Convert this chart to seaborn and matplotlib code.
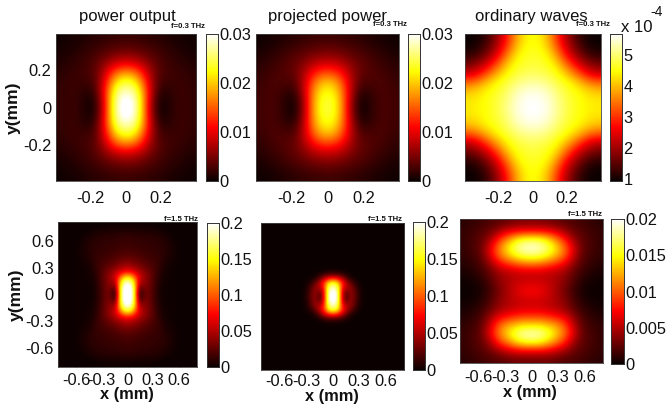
import numpy as np
import pandas as pd
import matplotlib
matplotlib.use("Agg")
import matplotlib.pyplot as plt
import seaborn as sns

# Upper-right quadrants: rows y = 0 .. ymax, columns x = 0 .. xmax (units of 1e-3)
power_03 = [
    [32, 29, 19, 6.5, 0.4, 1.0, 2.0, 2.2, 1.8],
    [31, 28.5, 19, 7, 0.8, 1.0, 2.0, 2.2, 1.8],
    [28, 26, 18, 8, 1.8, 1.5, 2.1, 2.2, 1.8],
    [24, 22, 15.5, 7.5, 2.8, 2.2, 2.2, 2.1, 1.7],
    [18, 16.5, 12, 6.5, 3.4, 2.5, 2.2, 1.9, 1.4],
    [11, 10, 8, 5.2, 3.3, 2.4, 1.9, 1.5, 1.1],
    [6.2, 5.8, 4.8, 3.6, 2.7, 2, 1.5, 1.1, 0.8],
    [3.6, 3.4, 3, 2.5, 2, 1.5, 1.1, 0.8, 0.5],
    [2.2, 2.1, 1.9, 1.6, 1.3, 1, 0.7, 0.5, 0.3],
]
projected_03 = [
    [24.5, 22.5, 15, 5, 0.3, 1.2, 2.6, 2.8, 2.4],
    [24, 22, 15, 5.5, 0.7, 1.3, 2.6, 2.8, 2.4],
    [22.5, 20.5, 14.5, 6.5, 1.9, 2, 2.8, 2.8, 2.3],
    [19.5, 18, 13, 7, 3.2, 2.9, 3, 2.7, 2.1],
    [14.5, 13.5, 10.5, 6.5, 4, 3.3, 2.9, 2.4, 1.8],
    [9.5, 9, 7.5, 5.4, 4, 3.2, 2.5, 2, 1.4],
    [6, 5.8, 5, 4, 3.3, 2.6, 2, 1.4, 1],
    [3.8, 3.6, 3.2, 2.8, 2.3, 1.8, 1.3, 0.9, 0.6],
    [2.4, 2.3, 2.1, 1.8, 1.5, 1.1, 0.8, 0.5, 0.3],
]
# units of 1e-4
ordinary_03 = [
    [5.7, 5.65, 5.5, 5.2, 4.9, 4.65, 4.5, 4.4, 4.35],
    [5.65, 5.6, 5.45, 5.15, 4.85, 4.65, 4.5, 4.35, 4.3],
    [5.5, 5.45, 5.3, 5.0, 4.75, 4.55, 4.35, 4.15, 4.0],
    [5.2, 5.15, 5.0, 4.8, 4.55, 4.25, 3.9, 3.5, 3.3],
    [4.9, 4.85, 4.75, 4.5, 4.1, 3.6, 3.05, 2.55, 2.3],
    [4.75, 4.7, 4.55, 4.2, 3.55, 2.9, 2.3, 1.95, 1.7],
    [4.65, 4.6, 4.35, 3.75, 2.95, 2.25, 1.75, 1.4, 1.25],
    [4.55, 4.45, 4.05, 3.3, 2.5, 1.85, 1.4, 1.1, 1.0],
    [4.5, 4.35, 3.85, 3.05, 2.25, 1.65, 1.2, 1.0, 0.95],
]
power_15 = [
    [230, 205, 110, 6, 28, 30, 20, 10, 3, 2, 2, 2, 1.5, 1, 1, 1, 1],
    [225, 200, 115, 15, 31, 31, 20, 10, 3.5, 2, 2, 2, 1.5, 1, 1, 1, 1],
    [210, 190, 115, 35, 38, 32, 21, 11, 4, 2.5, 2, 2, 1.5, 1, 1, 1, 1],
    [185, 165, 110, 52, 42, 33, 22, 12, 5, 3, 2, 2, 1.5, 1, 1, 1, 1],
    [140, 125, 90, 58, 44, 34, 23, 13, 6, 3, 2.5, 2, 1.5, 1, 1, 1, 1],
    [85, 78, 65, 50, 40, 31, 23, 14, 7, 3.5, 2.5, 2, 1.5, 1, 1, 1, 1],
    [55, 52, 45, 38, 32, 26, 20, 15, 9, 4.5, 3, 2, 1.5, 1, 1, 1, 1],
    [40, 38, 34, 29, 25, 21, 18, 15, 10, 5.5, 3.5, 2.5, 1.5, 1, 1, 1, 1],
    [30, 29, 26, 23, 20, 18, 16, 14, 11, 7, 4.5, 3, 2, 1, 1, 1, 1],
    [23, 22, 21, 19, 17, 15, 14, 13, 11, 8, 5.5, 3.5, 2, 1, 1, 1, 1],
    [19, 18, 17, 16, 15, 14, 13, 12, 11, 9, 6.5, 4, 2, 1, 1, 1, 1],
    [16, 16, 15, 14, 13, 13, 12, 11, 10, 8.5, 6.5, 3.5, 2, 1, 1, 1, 1],
    [14, 14, 13, 13, 12, 12, 11, 10, 9, 7.5, 5, 3, 1.5, 1, 1, 1, 1],
    [13, 13, 12, 11, 10, 10, 9, 8.5, 7.5, 6, 4, 2, 1.5, 1, 1, 1, 1],
    [9, 9, 8, 8, 7.5, 7.5, 7, 6.5, 5, 3, 2, 1.5, 1, 1, 1, 1, 1],
    [4.5, 4.5, 4.5, 4, 4, 3.5, 3, 2.5, 2, 1.5, 1, 1, 1, 1, 1, 1, 1],
    [2, 2, 2, 2, 2, 1.5, 1.5, 1, 1, 1, 1, 1, 1, 1, 1, 1, 1],
]
projected_15 = [
    [215, 190, 75, 15, 42, 28, 8, 1.5, 0, 0, 0, 0, 0, 0, 0, 0, 0],
    [210, 185, 78, 25, 43, 27, 7, 1.5, 0, 0, 0, 0, 0, 0, 0, 0, 0],
    [190, 170, 90, 48, 42, 22, 5, 1, 0, 0, 0, 0, 0, 0, 0, 0, 0],
    [160, 145, 90, 55, 30, 12, 3, 0.5, 0, 0, 0, 0, 0, 0, 0, 0, 0],
    [90, 80, 58, 28, 9, 3, 1, 0.2, 0, 0, 0, 0, 0, 0, 0, 0, 0],
    [20, 18, 13, 6, 2, 0.6, 0.2, 0, 0, 0, 0, 0, 0, 0, 0, 0, 0],
    [2.5, 2, 1.5, 1, 0.4, 0.1, 0, 0, 0, 0, 0, 0, 0, 0, 0, 0, 0],
    [0.3, 0.3, 0.2, 0.1, 0, 0, 0, 0, 0, 0, 0, 0, 0, 0, 0, 0, 0],
    [0, 0, 0, 0, 0, 0, 0, 0, 0, 0, 0, 0, 0, 0, 0, 0, 0],
    [0, 0, 0, 0, 0, 0, 0, 0, 0, 0, 0, 0, 0, 0, 0, 0, 0],
    [0, 0, 0, 0, 0, 0, 0, 0, 0, 0, 0, 0, 0, 0, 0, 0, 0],
    [0, 0, 0, 0, 0, 0, 0, 0, 0, 0, 0, 0, 0, 0, 0, 0, 0],
    [0, 0, 0, 0, 0, 0, 0, 0, 0, 0, 0, 0, 0, 0, 0, 0, 0],
    [0, 0, 0, 0, 0, 0, 0, 0, 0, 0, 0, 0, 0, 0, 0, 0, 0],
    [0, 0, 0, 0, 0, 0, 0, 0, 0, 0, 0, 0, 0, 0, 0, 0, 0],
    [0, 0, 0, 0, 0, 0, 0, 0, 0, 0, 0, 0, 0, 0, 0, 0, 0],
    [0, 0, 0, 0, 0, 0, 0, 0, 0, 0, 0, 0, 0, 0, 0, 0, 0],
]
# Right half, rows y = -0.8 .. 0.8 bottom to top, columns x = 0 .. 0.8
ordinary_15 = [
    [3, 3, 3, 2.6, 2.2, 2, 1.6, 1.3, 1],
    [7.5, 7.5, 7, 6, 4.5, 3, 2.3, 1.7, 1.3],
    [16, 15.5, 13.5, 11, 8.5, 4.5, 2.6, 1.9, 1.3],
    [19, 18.5, 16.5, 13.5, 10.5, 6.5, 2.8, 1.9, 1.3],
    [14, 14, 13, 12, 9.5, 5.5, 2.5, 1.6, 1.1],
    [9, 9, 8.5, 7.5, 6.5, 4, 2, 1.2, 0.8],
    [6, 6, 5.5, 5, 4, 2.5, 1.3, 0.7, 0.4],
    [6, 6, 5.5, 4.8, 3.6, 2, 0.8, 0.3, 0.2],
    [7.5, 7, 6, 4.5, 3, 1.5, 0.5, 0.1, 0.1],
    [6, 6, 5.5, 4.8, 3.6, 2, 0.8, 0.3, 0.2],
    [5.5, 5.5, 5.2, 4.8, 4, 2.5, 1.3, 0.7, 0.4],
    [9.5, 9.2, 8.5, 7.5, 6, 3.5, 2, 1.2, 0.8],
    [16, 15.5, 14, 12, 9.5, 5.5, 2.5, 1.6, 1.1],
    [19.5, 19, 17, 14, 10.5, 6.5, 2.8, 1.9, 1.3],
    [17, 16.5, 14.5, 11.5, 8.5, 4.5, 2.6, 1.9, 1.3],
    [8, 8, 7.5, 6.5, 4.5, 3, 2.3, 1.7, 1.3],
    [3.5, 3.5, 3.2, 2.8, 2.4, 2, 1.6, 1.3, 1],
]

titles = ["power output", "projected power", "ordinary waves"]
ticks_03 = [-0.2, 0, 0.2]
ticklabels_03 = ["-0.2", "0", "0.2"]
ticks_15 = [-0.6, -0.3, 0, 0.3, 0.6]
ticklabels_15 = ["-0.6", "-0.3", "0", "0.3", "0.6"]

W, H = 667, 404
FS = 11.8
sns.set_theme(style="white")
plt.rcParams["font.family"] = ["Liberation Sans", "DejaVu Sans"]
fig = plt.figure(figsize=(W / 100, H / 100), dpi=100, facecolor="white")


def rect(x0, y0, x1, y1):
    return [x0 / W, 1 - y1 / H, (x1 - x0) / W, (y1 - y0) / H]


def ftext(x, y, s, **kw):
    kw.setdefault("ha", "center")
    kw.setdefault("va", "center")
    kw.setdefault("color", "#111111")
    fig.text(x / W, 1 - y / H, s, **kw)


def mirror_quadrant(q):
    q = np.array(q, dtype=float)
    half = np.hstack([q[:, :0:-1], q])
    return np.vstack([half[:0:-1], half])


def mirror_x(q):
    q = np.array(q, dtype=float)
    return np.hstack([q[:, :0:-1], q])


def panel(Z, lim, box, cbox, vmin, vmax, xticks, xlabels, yticks, ylabels,
          cticks, clabels, xpad=7):
    ax = fig.add_axes(rect(*box))
    cax = fig.add_axes(rect(*cbox))
    ny, nx = Z.shape
    frame = pd.DataFrame(Z)
    sns.heatmap(frame, ax=ax, cbar_ax=cax, cmap="hot", vmin=vmin, vmax=vmax,
                xticklabels=False, yticklabels=False,
                cbar_kws={"ticks": cticks})
    # the same cells, smoothed at drawing time as in the reference's shaded maps
    ax.imshow(Z, cmap="hot", vmin=vmin, vmax=vmax, origin="lower",
              extent=(0, nx, 0, ny), aspect="auto", interpolation="bicubic",
              zorder=1.5)
    ax.set_xlim(0, nx)
    ax.set_ylim(0, ny)
    xpos = [(t + lim) / (2 * lim) * nx for t in xticks]
    ypos = [(t + lim) / (2 * lim) * ny for t in yticks]
    ax.set_xticks(xpos)
    ax.set_xticklabels(xlabels, rotation=0, fontsize=FS, color="#111111")
    ax.set_yticks(ypos)
    ax.set_yticklabels(ylabels, rotation=0, fontsize=FS, color="#111111")
    ax.tick_params(axis="x", direction="in", length=2, width=0.5,
                   color="#333333", pad=xpad, bottom=True)
    ax.tick_params(axis="y", direction="in", length=2, width=0.5,
                   color="#333333", pad=3, left=True)
    for sp in ax.spines.values():
        sp.set_visible(True)
        sp.set_linewidth(0.6)
        sp.set_color("#444444")
    cax.set_yticklabels(clabels, fontsize=FS, color="#111111")
    cax.tick_params(axis="y", direction="in", length=2, width=0.5,
                    color="#333333", pad=1, right=True)
    for sp in cax.spines.values():
        sp.set_visible(True)
        sp.set_linewidth(0.6)
        sp.set_color("#333333")
    return ax


clab3 = ["0", "0.01", "0.02", "0.03"]
clab2 = ["0", "0.05", "0.1", "0.15", "0.2"]
clab6 = ["0", "0.005", "0.01", "0.015", "0.02"]

panel(mirror_quadrant(power_03) * 1e-3, 0.397, (55.5, 34, 196, 181), (206, 34, 218, 181),
      0, 0.03, ticks_03, ticklabels_03, ticks_03, ticklabels_03,
      [0, 0.01, 0.02, 0.03], clab3)
panel(mirror_quadrant(projected_03) * 1e-3, 0.397, (256, 34, 399, 181), (408, 34, 420, 181),
      0, 0.03, ticks_03, ticklabels_03, [], [],
      [0, 0.01, 0.02, 0.03], clab3)
panel(mirror_quadrant(ordinary_03), 0.397, (465, 34, 601, 181), (610, 34, 622, 181),
      0.94, 5.68, ticks_03, ticklabels_03, [], [],
      [1, 2, 3, 4, 5], ["1", "2", "3", "4", "5"])
panel(mirror_quadrant(power_15) * 1e-3, 0.81, (58, 222, 197, 367), (207, 223, 219, 367),
      0, 0.2, ticks_15, ticklabels_15, ticks_15, ticklabels_15,
      [0, 0.05, 0.1, 0.15, 0.2], clab2, xpad=4)
panel(mirror_quadrant(projected_15) * 1e-3, 0.81, (261, 223, 404, 370), (413, 222, 425, 370),
      0, 0.2, ticks_15, ticklabels_15, [], [],
      [0, 0.05, 0.1, 0.15, 0.2], clab2, xpad=3)
panel(mirror_x(ordinary_15) * 1e-3, 0.81, (460, 219, 603, 363), (611, 219, 624, 364),
      0, 0.02, ticks_15, ticklabels_15, [], [],
      [0, 0.005, 0.01, 0.015, 0.02], clab6, xpad=5)

for x, y, s in zip([127, 327, 531], [17, 17, 16], titles):
    ftext(x, y, s, fontsize=12)
for x, y in [(188, 26), (390, 25), (593, 25)]:
    ftext(x, y, "f=0.3 THz", fontsize=5.6, fontweight="bold")
for x, y in [(181, 219), (385, 219), (585, 215)]:
    ftext(x, y, "f=1.5 THz", fontsize=5.6, fontweight="bold")
ftext(13, 108, "y(mm)", fontsize=12.6, fontweight="bold", rotation=90)
ftext(16, 295, "y(mm)", fontsize=12.6, fontweight="bold", rotation=90)
for x, y in [(127, 395), (332, 397), (530, 393)]:
    ftext(x, y, "x (mm)", fontsize=11.8, fontweight="bold")
ftext(637, 27, "x 10", fontsize=12)
ftext(657, 12, "-4", fontsize=10)

fig.savefig("out.png", dpi=100)
